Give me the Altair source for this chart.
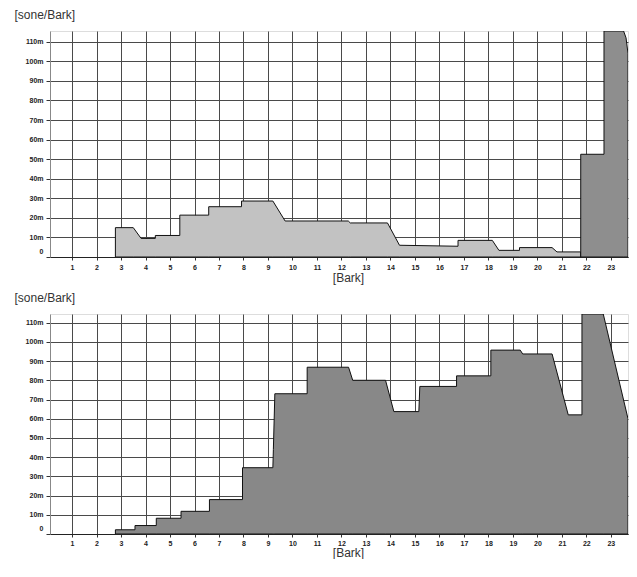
import altair as alt
import pandas as pd

# ---- data (Bark, sone/Bark in milli-sone) ----
top_low_bark = [2.77, 2.77, 3.50, 3.82, 4.40, 4.40, 5.40, 5.40, 6.58, 6.58, 7.92, 7.92, 9.20, 9.70,
                12.28, 12.36, 13.88, 14.37, 16.76, 16.76, 18.16, 18.43, 19.27, 19.27, 20.60, 20.80,
                21.77, 21.77]
top_low_sone = [0, 15.0, 15.0, 9.5, 9.5, 11.0, 11.0, 21.4, 21.4, 25.7, 25.7, 28.6, 28.6, 18.4,
                18.4, 17.4, 17.4, 6.0, 5.5, 8.5, 8.5, 3.4, 3.4, 4.8, 4.8, 2.6,
                2.6, 0]

top_spike_bark = [21.77, 21.77, 22.72, 22.72, 23.52, 23.62, 23.70]
top_spike_sone = [0, 52.5, 52.5, 115.5, 115.5, 112, 104]

bottom_bark = [2.77, 2.77, 3.57, 3.57, 4.44, 4.44, 5.45, 5.45, 6.61, 6.61, 7.96, 7.96, 9.20, 9.22,
               9.28, 10.60, 10.60, 12.29, 12.46, 13.80, 14.14, 15.16, 15.20, 16.70, 16.70, 18.10,
               18.10, 19.30, 19.40, 20.60, 21.26, 21.82, 21.82, 22.69, 23.70]
bottom_sone = [0, 2.2, 2.2, 4.4, 4.4, 8.2, 8.2, 11.8, 11.8, 17.9, 17.9, 34.5, 34.5, 44.0,
               73.0, 73.0, 86.8, 86.8, 80.0, 80.0, 63.7, 63.7, 76.8, 76.8, 82.3, 82.3,
               95.7, 95.7, 93.7, 93.7, 62.0, 62.0, 114.5, 114.5, 60.0]

bark_ticks = list(range(1, 24))
sone_ticks = list(range(0, 111, 10))


def frame(xs, ys):
    return pd.DataFrame({"bark": xs, "sone": ys})


X_DOMAIN = [0.1, 23.7]
FONT = "Liberation Sans"


def x_enc(title_y, label_pad):
    return alt.X(
        "bark:Q",
        scale=alt.Scale(domain=X_DOMAIN, nice=False, zero=False),
        axis=alt.Axis(
            values=bark_ticks,
            format="d",
            title="[Bark]",
            grid=True,
            gridColor="#4a4a4a",
            gridWidth=1,
            tickSize=3,
            tickColor="#333",
            labelFont=FONT,
            labelFontSize=7,
            labelFontWeight="bold",
            labelColor="#222",
            labelPadding=label_pad,
            labelFlush=False,
            domainColor="#222",
            titleFont=FONT,
            titleFontSize=12,
            titleFontWeight="normal",
            titleColor="#333",
            titleX=298,
            titleY=title_y,
            titleAlign="center",
            titleBaseline="middle",
        ),
    )


def y_enc(y_max):
    return alt.Y(
        "sone:Q",
        stack=None,
        scale=alt.Scale(domain=[0, y_max], nice=False),
        axis=alt.Axis(
            values=sone_ticks,
            labelExpr="datum.value == 0 ? '0' : datum.value + 'm'",
            title="[sone/Bark]",
            grid=True,
            gridColor="#4a4a4a",
            gridWidth=1,
            tickSize=4,
            tickColor="#333",
            labelFont=FONT,
            labelFontSize=7,
            labelFontWeight="bold",
            labelColor="#222",
            labelPadding=3,
            labelOffset={"condition": {"test": "datum.value === 0", "value": -6}, "value": 0},
            domainColor="#888",
            titleFont=FONT,
            titleFontSize=12,
            titleFontWeight="normal",
            titleColor="#333",
            titleAngle=0,
            titleAlign="left",
            titleBaseline="middle",
            titleX=-36,
            titleY=-17,
        ),
    )


def area(df, fill, y_max, title_y, label_pad):
    return (
        alt.Chart(df)
        .mark_area(fill=fill, stroke="#111", strokeWidth=1, clip=True, interpolate="linear")
        .encode(x=x_enc(title_y, label_pad), y=y_enc(y_max))
    )


top = alt.layer(
    area(frame(top_low_bark, top_low_sone), "#c2c2c2", 115.5, 20, 3),
    area(frame(top_spike_bark, top_spike_sone), "#8e8e8e", 115.5, 20, 3),
).properties(width=578, height=226)

bottom = area(frame(bottom_bark, bottom_sone), "#888888", 114.5, 18, 2).properties(width=578, height=220)

chart = (
    alt.vconcat(top, bottom, spacing=6)
    .properties(padding={"left": 5, "top": -1, "right": 0, "bottom": 0})
    .configure_view(stroke=None)
    .configure(background="white")
)

chart.save("out.html", embed_options={"renderer": "svg", "actions": False})
